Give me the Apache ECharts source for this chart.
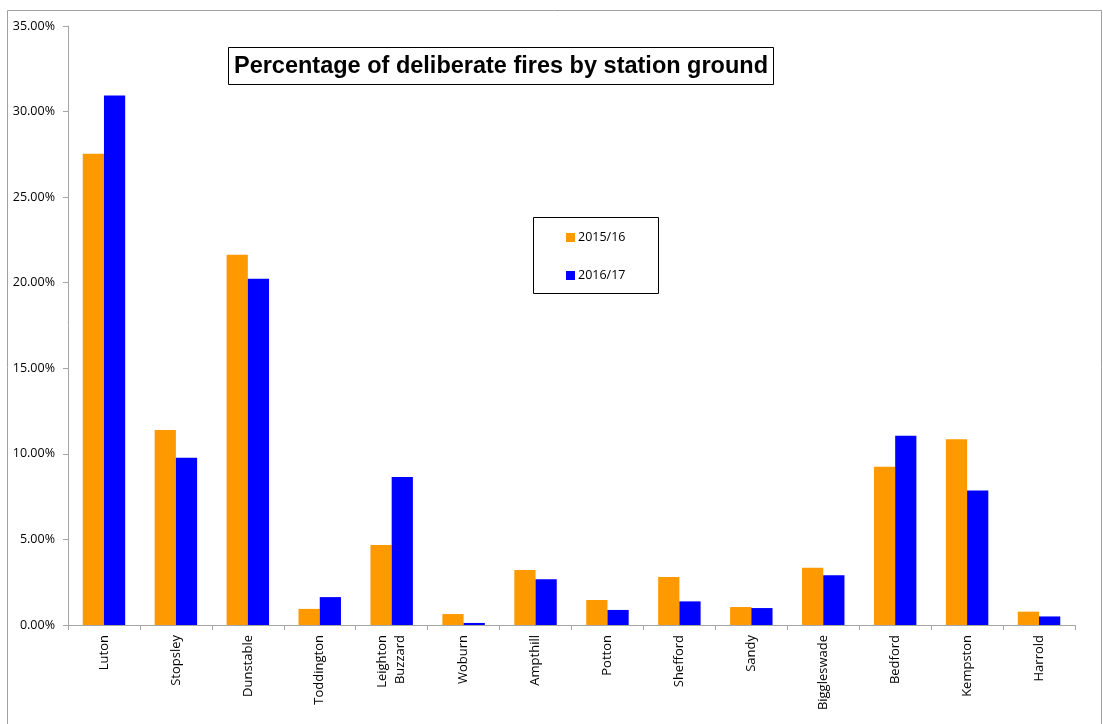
<!DOCTYPE html>
<html>
<head>
<meta charset="utf-8">
<script src="https://cdn.jsdelivr.net/npm/echarts@6/dist/echarts.min.js"></script>
<style>
    html, body { margin: 0; padding: 0; background: #fff; }
    #chartDiv { width: 1103px; height: 724px; }
</style>
</head>
<body>
<div id="chartDiv"></div>
<script>
    // station grounds
    var stations = ['Luton', 'Stopsley', 'Dunstable', 'Toddington', 'Leighton\nBuzzard', 'Woburn',
        'Ampthill', 'Potton', 'Shefford', 'Sandy', 'Biggleswade', 'Bedford', 'Kempston', 'Harrold']
    // % of deliberate fires
    var year1516 = [27.54, 11.40, 21.64, 0.94, 4.68, 0.64, 3.22, 1.46, 2.81, 1.05, 3.34, 9.24, 10.86, 0.78]
    var year1617 = [30.94, 9.77, 20.23, 1.63, 8.65, 0.12, 2.67, 0.88, 1.38, 0.99, 2.91, 11.06, 7.86, 0.50]
    var yTicks = [0, 5, 10, 15, 20, 25, 30, 35]

    var font = '"Open Sans", "Liberation Sans", Arial, sans-serif'
    var titleFont = '"Liberation Sans", Arial, sans-serif'
    var axisGrey = '#a6a6a6'

    var chart = echarts.init(document.getElementById('chartDiv'))
    var option = {
        animation: false,
        backgroundColor: '#fff',
        textStyle: { fontFamily: font },
        grid: { left: 68, right: 28, top: 26, bottom: 99, containLabel: false },
        legend: {
            orient: 'vertical',
            left: 561,
            top: 226,
            itemWidth: 9,
            itemHeight: 9,
            itemGap: 25,
            icon: 'rect',
            data: ['2015/16', '2016/17'],
            textStyle: { fontFamily: font, fontSize: 12.5, color: '#000', padding: [0, 0, 0, -2] }
        },
        xAxis: {
            type: 'category',
            data: stations,
            axisLine: { lineStyle: { color: axisGrey, width: 1 } },
            axisTick: { show: true, length: 5, lineStyle: { color: axisGrey } },
            axisLabel: {
                rotate: 90,
                interval: 0,
                margin: 10,
                fontSize: 13,
                lineHeight: 18,
                color: '#000',
                fontFamily: font
            }
        },
        yAxis: {
            type: 'value',
            min: yTicks[0],
            max: yTicks[yTicks.length - 1],
            interval: 5,
            axisLine: { show: true, lineStyle: { color: axisGrey, width: 1 } },
            axisTick: { show: true, length: 5, lineStyle: { color: axisGrey } },
            splitLine: { show: false },
            axisLabel: {
                margin: 13,
                fontSize: 12.5,
                color: '#000',
                fontFamily: font,
                formatter: function (v) { return v.toFixed(2) + '%' }
            }
        },
        series: [
            {
                name: '2015/16',
                type: 'bar',
                data: year1516,
                barGap: '0%',
                barCategoryGap: '41%',
                itemStyle: { color: '#ff9900' }
            },
            {
                name: '2016/17',
                type: 'bar',
                data: year1617,
                itemStyle: { color: '#0000ff' }
            }
        ],
        graphic: [
            { // outer chart border
                type: 'rect', z: -1,
                shape: { x: 7.5, y: 10.5, width: 1094, height: 720 },
                style: { fill: 'none', stroke: '#a0a0a0', lineWidth: 1 }
            },
            { // title box
                type: 'rect',
                shape: { x: 228.5, y: 47.5, width: 545, height: 37 },
                style: { fill: '#fff', stroke: '#000', lineWidth: 1 }
            },
            {
                type: 'text',
                x: 501, y: 67,
                style: {
                    text: 'Percentage of deliberate fires by station ground',
                    font: 'bold 23.5px ' + titleFont,
                    fill: '#000',
                    align: 'center',
                    verticalAlign: 'middle'
                }
            },
            { // legend box
                type: 'rect',
                shape: { x: 533.5, y: 217.5, width: 125, height: 76 },
                style: { fill: 'none', stroke: '#000', lineWidth: 1 }
            }
        ]
    }
    chart.setOption(option)
</script>
</body>
</html>
